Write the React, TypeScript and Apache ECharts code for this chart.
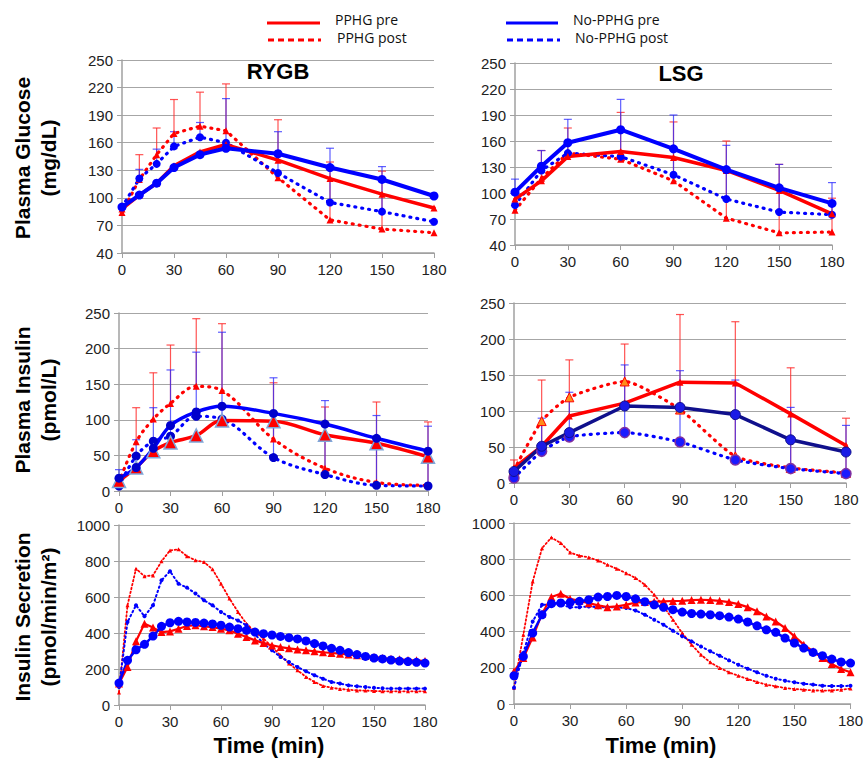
import React, { useEffect, useRef } from "react";
import * as echarts from "echarts";

const RED = "#ff0000";
const BLUE = "#0000ff";
const NAVY = "#10108c";
const FONT = "'Liberation Sans', Arial, sans-serif";

// time points (min)
const tRYGB = [0, 10, 20, 30, 45, 60, 90, 120, 150, 180];
const tLSG = [0, 15, 30, 60, 90, 120, 150, 180];
const tSec = [0, 5, 10, 15, 20, 25, 30, 35, 40, 45, 50, 55, 60, 65, 70, 75, 80, 85, 90, 95, 100, 105, 110, 115, 120, 125, 130, 135, 140, 145, 150, 155, 160, 165, 170, 175, 180];

// Plasma glucose, RYGB
const gluRygbPphgPre = [88, 103, 116, 135, 150, 158, 141, 121, 104, 89];
const gluRygbPphgPost = [84, 120, 147, 170, 178, 173, 122, 76, 66, 62];
const gluRygbNoPre = [90, 103, 116, 133, 147, 154, 148, 133, 120, 102];
const gluRygbNoPost = [90, 121, 137, 156, 166, 160, 127, 95, 85, 74];
// Plasma glucose, LSG
const gluLsgPphgPre = [93, 114, 142, 148, 141, 126, 103, 76];
const gluLsgPphgPost = [80, 117, 146, 139, 114, 71, 54, 55];
const gluLsgNoPre = [101, 131, 158, 173, 151, 127, 106, 88];
const gluLsgNoPost = [86, 126, 146, 142, 121, 93, 78, 75];

// Plasma insulin, RYGB
const insRygbPphgPre = [14, 33, 56, 68, 78, 99, 98, 79, 67, 48];
const insRygbPphgPost = [12, 69, 101, 123, 147, 141, 73, 32, 12, 8];
const insRygbNoPre = [18, 33, 60, 92, 111, 119, 109, 94, 74, 56];
const insRygbNoPost = [7, 49, 70, 77, 105, 101, 47, 23, 8, 7];
// Plasma insulin, LSG
const insLsgPphgPre = [21, 51, 93, 111, 140, 139, 96, 52];
const insLsgPphgPost = [18, 86, 119, 141, 102, 37, 21, 14];
const insLsgNoPre = [16, 51, 70, 107, 105, 95, 60, 43];
const insLsgNoPost = [7, 44, 64, 70, 57, 32, 20, 13];

// Insulin secretion, RYGB
const secRygbPphgPre = [120, 211, 354, 452, 430, 405, 409, 424, 439, 443, 437, 433, 424, 415, 396, 378, 359, 344, 331, 322, 315, 309, 304, 298, 293, 289, 285, 280, 276, 272, 267, 261, 257, 254, 250, 248, 244];
const secRygbPphgPost = [70, 554, 757, 715, 720, 798, 859, 865, 826, 804, 794, 754, 674, 591, 517, 452, 406, 369, 322, 276, 230, 193, 156, 128, 106, 96, 89, 85, 81, 80, 78, 76, 76, 76, 76, 76, 76];
const secRygbNoPre = [122, 248, 307, 337, 383, 437, 457, 465, 461, 459, 455, 450, 443, 433, 424, 415, 405, 396, 389, 381, 374, 367, 356, 341, 328, 315, 304, 291, 280, 270, 261, 256, 250, 244, 241, 237, 233];
const secRygbNoPost = [100, 461, 554, 493, 554, 693, 743, 674, 652, 619, 582, 554, 517, 489, 470, 443, 393, 341, 304, 267, 239, 211, 187, 165, 146, 128, 119, 109, 104, 100, 96, 93, 91, 91, 91, 91, 91];
// Insulin secretion, LSG
const secLsgPphgPre = [180, 254, 368, 499, 591, 609, 581, 570, 557, 545, 535, 539, 548, 561, 563, 565, 567, 569, 570, 574, 576, 574, 570, 563, 552, 535, 512, 484, 456, 420, 374, 328, 291, 254, 221, 193, 175];
const secLsgPphgPost = [90, 383, 677, 861, 920, 889, 837, 819, 810, 793, 769, 747, 723, 696, 659, 604, 539, 466, 392, 328, 272, 230, 199, 175, 156, 138, 121, 107, 98, 88, 83, 79, 75, 74, 75, 79, 85];
const secLsgNoPre = [156, 263, 392, 493, 554, 558, 561, 567, 576, 591, 594, 600, 594, 581, 565, 548, 534, 521, 508, 500, 497, 493, 488, 480, 469, 453, 432, 410, 396, 364, 337, 309, 285, 267, 248, 232, 226];
const secLsgNoPost = [90, 282, 456, 548, 548, 548, 535, 535, 539, 535, 535, 534, 530, 517, 493, 466, 438, 405, 374, 346, 318, 291, 267, 241, 217, 195, 175, 156, 140, 129, 120, 112, 107, 101, 99, 99, 101];

// error bars [time, low, high]
const errGluRygbPphg = [[10, 120, 147], [20, 145, 176], [30, 170, 207], [45, 178, 215], [60, 173, 224], [90, 141, 185], [120, 76, 139], [150, 66, 129]];
const errGluRygbNo = [[10, 121, 131], [20, 137, 153], [30, 156, 172], [45, 166, 182], [60, 160, 208], [90, 127, 172], [120, 95, 154], [150, 85, 134]];
const errGluLsgPphg = [[15, 114, 149], [30, 142, 175], [60, 139, 193], [90, 114, 182], [120, 71, 160], [150, 53, 133], [180, 55, 94]];
const errGluLsgNo = [[0, 101, 116], [15, 126, 149], [30, 146, 185], [60, 142, 208], [90, 121, 190], [120, 93, 155], [150, 78, 133], [180, 75, 112]];
const errInsRygbPphg = [[10, 69, 117], [20, 101, 166], [30, 123, 205], [45, 147, 242], [60, 141, 235], [90, 73, 152], [120, 32, 118], [150, 12, 125], [180, 8, 97]];
const errInsRygbNo = [[0, 7, 30], [10, 49, 72], [20, 70, 117], [30, 77, 170], [45, 105, 195], [60, 101, 223], [90, 47, 159], [120, 23, 127], [150, 8, 106], [180, 7, 91]];
const errInsLsgPphg = [[0, 18, 32], [15, 51, 143], [30, 92, 171], [60, 111, 193], [90, 102, 234], [120, 37, 224], [150, 21, 160], [180, 14, 90]];
const errInsLsgNo = [[15, 44, 90], [30, 64, 126], [60, 69, 164], [90, 57, 156], [120, 32, 143], [150, 20, 105], [180, 13, 80]];

const grids = [
  { left: 122, top: 60, width: 312, height: 193 },
  { left: 515, top: 63, width: 317, height: 182 },
  { left: 119, top: 313, width: 309, height: 178 },
  { left: 514, top: 303, width: 332, height: 180 },
  { left: 119, top: 525, width: 306, height: 180 },
  { left: 514, top: 523, width: 338, height: 181 },
];
const yRanges = [
  [40, 250, 30], [40, 250, 30],
  [0, 250, 50], [0, 250, 50],
  [0, 1000, 200], [0, 1000, 200],
];

const DOT: number[] = [1, 6];

function line(idx: number, name: string, times: number[], vals: number[], o: any) {
  return {
    type: "line",
    name,
    xAxisIndex: idx,
    yAxisIndex: idx,
    data: times.map((t, i) => [t, vals[i]]),
    smooth: o.smooth ?? false,
    symbol: o.symbol,
    symbolSize: o.size,
    showSymbol: true,
    lineStyle: { color: o.color, width: o.width, type: o.dash ?? "solid", cap: "round" },
    itemStyle: {
      color: o.fill ?? o.color,
      borderColor: o.border ?? o.color,
      borderWidth: o.bw ?? 0,
    },
    emphasis: { disabled: true },
    z: 3,
  };
}

function errBars(idx: number, data: number[][], color: string) {
  return {
    type: "custom",
    xAxisIndex: idx,
    yAxisIndex: idx,
    data,
    encode: { x: 0, y: [1, 2] },
    z: 2,
    renderItem: (params: any, api: any) => {
      const x = api.value(0);
      const p1 = api.coord([x, api.value(1)]);
      const p2 = api.coord([x, api.value(2)]);
      const w = 4;
      const st = { stroke: color, lineWidth: 1.2 };
      return {
        type: "group",
        children: [
          { type: "line", shape: { x1: p1[0], y1: p1[1], x2: p2[0], y2: p2[1] }, style: st },
          { type: "line", shape: { x1: p2[0] - w, y1: p2[1], x2: p2[0] + w, y2: p2[1] }, style: st },
        ],
      };
    },
  };
}

const ERR_RED = "rgba(255,40,40,0.8)";
const ERR_BLUE = "rgba(40,40,255,0.75)";

function buildOption() {
  const xAxis = grids.map((_, i) => ({
    type: "value",
    gridIndex: i,
    min: 0,
    max: 180,
    interval: 30,
    axisLine: { show: true, lineStyle: { color: "#a0a0a0", width: 1.5 } },
    axisTick: { show: true, length: 5, lineStyle: { color: "#a0a0a0" } },
    splitLine: { show: false },
    axisLabel: { fontSize: 15, color: "#222", fontFamily: FONT, margin: 9, formatter: (v: number) => String(v) },
  }));
  const yAxis = grids.map((_, i) => ({
    type: "value",
    gridIndex: i,
    min: yRanges[i][0],
    max: yRanges[i][1],
    interval: yRanges[i][2],
    axisLine: { show: true, lineStyle: { color: "#a0a0a0", width: 1.5 } },
    axisTick: { show: true, length: 5, lineStyle: { color: "#a0a0a0" } },
    splitLine: { show: true, lineStyle: { color: "#a6a6a6", width: 1.2 } },
    axisLabel: { fontSize: 15, color: "#222", fontFamily: FONT, margin: 9, formatter: (v: number) => String(v) },
  }));

  const series: any[] = [
    // error bars
    errBars(0, errGluRygbPphg, ERR_RED),
    errBars(0, errGluRygbNo, ERR_BLUE),
    errBars(1, errGluLsgPphg, ERR_RED),
    errBars(1, errGluLsgNo, ERR_BLUE),
    errBars(2, errInsRygbPphg, ERR_RED),
    errBars(2, errInsRygbNo, ERR_BLUE),
    errBars(3, errInsLsgPphg, ERR_RED),
    errBars(3, errInsLsgNo, ERR_BLUE),

    // glucose RYGB
    line(0, "PPHG post", tRYGB, gluRygbPphgPost, { color: RED, width: 3.2, dash: DOT, symbol: "triangle", size: 7 }),
    line(0, "No-PPHG post", tRYGB, gluRygbNoPost, { color: BLUE, width: 3.2, dash: DOT, symbol: "circle", size: 8 }),
    line(0, "PPHG pre", tRYGB, gluRygbPphgPre, { color: RED, width: 3.5, symbol: "triangle", size: 7 }),
    line(0, "No-PPHG pre", tRYGB, gluRygbNoPre, { color: BLUE, width: 4, symbol: "circle", size: 9 }),

    // glucose LSG
    line(1, "PPHG post", tLSG, gluLsgPphgPost, { color: RED, width: 3.2, dash: DOT, symbol: "triangle", size: 7 }),
    line(1, "No-PPHG post", tLSG, gluLsgNoPost, { color: BLUE, width: 3.2, dash: DOT, symbol: "circle", size: 8 }),
    line(1, "PPHG pre", tLSG, gluLsgPphgPre, { color: RED, width: 3.5, symbol: "triangle", size: 7 }),
    line(1, "No-PPHG pre", tLSG, gluLsgNoPre, { color: BLUE, width: 4, symbol: "circle", size: 9 }),

    // insulin RYGB
    line(2, "PPHG post", tRYGB, insRygbPphgPost, { color: RED, width: 3.2, dash: DOT, symbol: "triangle", size: 7, smooth: 0.35 }),
    line(2, "No-PPHG post", tRYGB, insRygbNoPost, { color: BLUE, width: 3.2, dash: DOT, symbol: "circle", size: 9, fill: "#0000cc", smooth: 0.35 }),
    line(2, "PPHG pre", tRYGB, insRygbPphgPre, { color: RED, width: 3.5, symbol: "triangle", size: 13, border: "#7fa7d9", bw: 1.5, smooth: 0.35 }),
    line(2, "No-PPHG pre", tRYGB, insRygbNoPre, { color: BLUE, width: 3.5, symbol: "circle", size: 9, fill: "#0000cc", smooth: 0.35 }),

    // insulin LSG
    line(3, "PPHG post", tLSG, insLsgPphgPost, { color: RED, width: 3.2, dash: DOT, symbol: "triangle", size: 9, fill: "#ff8c1a", border: RED, bw: 1, smooth: 0.2 }),
    line(3, "No-PPHG post", tLSG, insLsgNoPost, { color: BLUE, width: 3.2, dash: DOT, symbol: "circle", size: 10, fill: "#1a1aff", border: "#8030a0", bw: 1.5, smooth: 0.2 }),
    line(3, "PPHG pre", tLSG, insLsgPphgPre, { color: RED, width: 3.5, symbol: "triangle", size: 7 }),
    line(3, "No-PPHG pre", tLSG, insLsgNoPre, { color: NAVY, width: 3.5, symbol: "circle", size: 10, fill: "#1a1ae6", border: NAVY, bw: 1 }),

    // secretion RYGB
    line(4, "PPHG post", tSec, secRygbPphgPost, { color: RED, width: 1.8, dash: [1.5, 2.5], symbol: "triangle", size: 4 }),
    line(4, "No-PPHG post", tSec, secRygbNoPost, { color: BLUE, width: 2, dash: [1.5, 3], symbol: "circle", size: 4 }),
    line(4, "PPHG pre", tSec, secRygbPphgPre, { color: RED, width: 2.2, symbol: "triangle", size: 8 }),
    line(4, "No-PPHG pre", tSec, secRygbNoPre, { color: BLUE, width: 2.5, symbol: "circle", size: 9 }),

    // secretion LSG
    line(5, "PPHG post", tSec, secLsgPphgPost, { color: RED, width: 1.8, dash: [1.5, 2.5], symbol: "triangle", size: 4 }),
    line(5, "No-PPHG post", tSec, secLsgNoPost, { color: BLUE, width: 2, dash: [1.5, 3], symbol: "circle", size: 4 }),
    line(5, "PPHG pre", tSec, secLsgPphgPre, { color: RED, width: 2.2, symbol: "triangle", size: 8 }),
    line(5, "No-PPHG pre", tSec, secLsgNoPre, { color: BLUE, width: 2.5, symbol: "circle", size: 9 }),
  ];

  const titleStyle = (text: string) => ({
    text,
    font: `bold 22px ${FONT}`,
    fill: "#000",
    align: "center",
    verticalAlign: "middle",
  });
  const yTitle = (text: string, cx: number, cy: number) => ({
    type: "text",
    x: cx,
    y: cy,
    rotation: Math.PI / 2,
    style: {
      text,
      font: `bold 21px ${FONT}`,
      fill: "#000",
      align: "center",
      verticalAlign: "middle",
      lineHeight: 26,
    },
  });
  const legFont = "14px 'Open Sans', sans-serif";

  const graphic: any[] = [
    // legend
    { type: "line", shape: { x1: 267, y1: 23, x2: 320, y2: 23 }, style: { stroke: RED, lineWidth: 3 } },
    { type: "text", x: 335, y: 19, style: { text: "PPHG pre", font: legFont, fill: "#111", verticalAlign: "middle" } },
    { type: "line", shape: { x1: 268, y1: 40, x2: 321, y2: 40 }, style: { stroke: RED, lineWidth: 3, lineDash: [6, 4] } },
    { type: "text", x: 337, y: 37, style: { text: "PPHG post", font: legFont, fill: "#111", verticalAlign: "middle" } },
    { type: "line", shape: { x1: 506, y1: 23, x2: 558, y2: 23 }, style: { stroke: BLUE, lineWidth: 3 } },
    { type: "text", x: 573, y: 19, style: { text: "No-PPHG pre", font: legFont, fill: "#111", verticalAlign: "middle" } },
    { type: "line", shape: { x1: 507, y1: 40, x2: 560, y2: 40 }, style: { stroke: BLUE, lineWidth: 3, lineDash: [6, 4] } },
    { type: "text", x: 575, y: 37, style: { text: "No-PPHG post", font: legFont, fill: "#111", verticalAlign: "middle" } },
    // panel titles
    { type: "text", x: 278, y: 71, style: titleStyle("RYGB") },
    { type: "text", x: 681, y: 73, style: titleStyle("LSG") },
    // y titles
    yTitle("Plasma Glucose\n(mg/dL)", 35, 158),
    yTitle("Plasma Insulin\n(pmol/L)", 35, 400),
    yTitle("Insulin Secretion\n(pmol/min/m²)", 35, 617),
    // x titles
    { type: "text", x: 269, y: 745, style: titleStyle("Time (min)") },
    { type: "text", x: 661, y: 745, style: titleStyle("Time (min)") },
  ];

  return {
    animation: false,
    backgroundColor: "#ffffff",
    grid: grids,
    xAxis,
    yAxis,
    series,
    graphic,
  };
}

export default function App() {
  const ref = useRef<HTMLDivElement>(null);
  useEffect(() => {
    const chart = echarts.init(ref.current!, null, { renderer: "svg" });
    chart.setOption(buildOption() as any);
    return () => chart.dispose();
  }, []);
  return (
    <div
      ref={ref}
      style={{ position: "fixed", left: 0, top: 0, width: 866, height: 761, background: "#fff" }}
    />
  );
}
